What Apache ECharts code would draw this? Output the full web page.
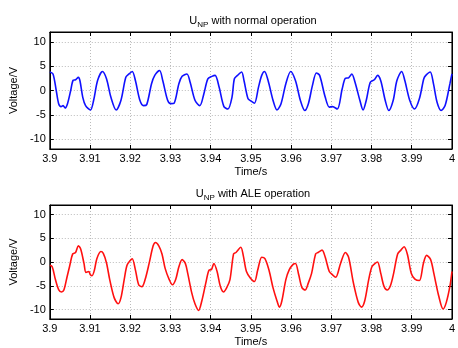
<!DOCTYPE html>
<html>
<head>
<meta charset="utf-8">
<script src="https://cdn.jsdelivr.net/npm/echarts@6/dist/echarts.min.js"></script>
<style>
  html, body { margin: 0; padding: 0; background: #fff; }
  #chart { width: 458px; height: 348px; }
</style>
</head>
<body>
<div id="chart"></div>
<script>
// U_NP, normal operation (blue)
const normalTime = [3.9, 3.9008, 3.9016, 3.9022, 3.9028, 3.9033, 3.9038, 3.9044, 3.9052, 3.9058,
  3.9064, 3.9071, 3.9075, 3.9082, 3.9089, 3.9101, 3.9109, 3.9119, 3.9131, 3.9141,
  3.9152, 3.9165, 3.9177, 3.9189, 3.9197, 3.9205, 3.9213, 3.9224, 3.9233, 3.9241,
  3.9253, 3.9261, 3.9273, 3.9281, 3.9293, 3.9301, 3.9309, 3.9321, 3.9329, 3.9341,
  3.9349, 3.9361, 3.9373, 3.9383, 3.9393, 3.9403, 3.9411, 3.9421, 3.9433, 3.9443,
  3.9453, 3.9459, 3.9467, 3.9477, 3.9483, 3.9493, 3.9501, 3.9509, 3.9519, 3.9527,
  3.9534, 3.9543, 3.9555, 3.9565, 3.9575, 3.9587, 3.9599, 3.9611, 3.9623, 3.9634,
  3.9643, 3.9653, 3.9663, 3.9671, 3.9685, 3.9695, 3.9703, 3.9715, 3.9727, 3.9735,
  3.9743, 3.9751, 3.9759, 3.9771, 3.9779, 3.9787, 3.9797, 3.9807, 3.9815, 3.9823,
  3.9834, 3.9843, 3.9854, 3.9863, 3.9875, 3.9883, 3.9895, 3.9907, 3.9919, 3.993,
  3.9935, 3.9946, 3.9954, 3.9963, 3.9973, 3.9983, 3.9995, 4.0];
const normalVolt = [3.8, 3.4, 0, -2.7, -3.3, -3.1, -3.6, -2.7, 0, 2.1,
  2.2, 2.7, 2.0, -1.4, -3.1, -4.0, -2.0, 2.1, 3.9, 2.4,
  -1.4, -4.0, -2.0, 2.7, 3.4, 3.9, 2.0, -2.0, -3.1, -2.9,
  1.4, 3.1, 4.1, 2.0, -2.0, -2.7, -2.6, 1.4, 2.9, 3.4,
  1.7, -2.0, -3.1, -0.7, 2.4, 2.9, 3.1, 0.7, -3.3, -3.8,
  -1.4, 2.4, 3.1, 3.8, 2.0, -1.7, -2.2, -2.6, 0.7, 3.1,
  3.9, 2.0, -2.0, -4.0, -2.7, 1.4, 3.9, 2.0, -2.0, -4.1,
  -2.7, 1.0, 3.6, 3.1, -1.4, -3.4, -3.3, -3.8, 0.3, 2.5,
  2.6, 3.4, 1.7, -2.0, -4.0, -2.0, 1.7, 2.2, 3.1, 2.0,
  -2.0, -4.1, -2.0, 2.0, 3.9, 2.0, -2.0, -3.8, -1.7, 2.4,
  3.1, 3.8, 1.4, -2.4, -4.1, -3.1, 1.4, 3.4];

// U_NP, ALE operation (red)
const aleTime = [3.9, 3.9006, 3.9014, 3.9022, 3.9029, 3.9035, 3.9043, 3.9049, 3.9057, 3.9064,
  3.9071, 3.9077, 3.9085, 3.909, 3.9097, 3.9101, 3.9105, 3.9111, 3.9117, 3.9127,
  3.9133, 3.9141, 3.9149, 3.916, 3.917, 3.9177, 3.9185, 3.9192, 3.92, 3.9205,
  3.9213, 3.9221, 3.9229, 3.9237, 3.9247, 3.9257, 3.9263, 3.9271, 3.9279, 3.9287,
  3.9297, 3.9305, 3.9313, 3.9321, 3.9329, 3.9337, 3.9343, 3.9353, 3.9361, 3.937,
  3.9378, 3.9388, 3.9396, 3.9402, 3.9408, 3.9416, 3.9424, 3.9432, 3.944, 3.9448,
  3.9457, 3.9463, 3.9475, 3.9481, 3.9489, 3.9499, 3.9509, 3.9517, 3.9527, 3.9535,
  3.9545, 3.9555, 3.9565, 3.9571, 3.9577, 3.9587, 3.9595, 3.9605, 3.9611, 3.9619,
  3.9627, 3.9635, 3.9643, 3.9651, 3.9661, 3.9667, 3.9677, 3.9685, 3.9695, 3.9703,
  3.9711, 3.9723, 3.9735, 3.9743, 3.9755, 3.9767, 3.9775, 3.9783, 3.9793, 3.9801,
  3.9809, 3.9815, 3.9823, 3.9831, 3.9839, 3.9847, 3.9855, 3.9865, 3.9873, 3.9881,
  3.9889, 3.9899, 3.9908, 3.9919, 3.9929, 3.9937, 3.9947, 3.9955, 3.9967, 3.9978,
  3.9986, 3.9995, 4.0];
const aleVolt = [-0.7, -1.0, -3.7, -5.8, -6.3, -5.9, -3.1, -1.0, 1.7, 2.0,
  3.4, 2.7, -0.3, -2.2, -2.0, -2.7, -2.9, -1.7, 0.7, 2.2,
  1.8, -0.2, -3.7, -7.5, -8.8, -7.5, -3.7, -0.7, 0.3, 0.7,
  -1.7, -4.8, -5.2, -3.7, -0.3, 3.4, 4.1, 3.4, 1.7, -1.4,
  -3.7, -4.8, -3.7, -1.0, 0.5, -0.3, -2.4, -6.5, -8.8, -10.2,
  -8.2, -4.4, -1.7, -1.6, -0.3, -2.0, -5.1, -6.3, -5.4, -3.7,
  1.7, 2.0, 3.1, 1.4, -2.0, -3.4, -4.1, -1.7, 1.0, 0.7,
  -1.7, -5.4, -8.2, -9.5, -8.2, -3.7, -1.7, -0.5, -0.3, -2.7,
  -5.4, -5.9, -4.4, -2.4, 1.7, 2.0, 2.5, 1.0, -2.0, -2.7,
  -3.2, -0.3, 2.0, 1.0, -4.4, -8.5, -9.5, -8.2, -3.7, -1.0,
  -0.3, 0, -2.4, -5.1, -5.9, -5.0, -2.4, 1.7, 2.5, 3.2,
  1.7, -2.4, -3.6, -3.9, -0.3, 1.4, 0.5, -2.4, -7.1, -9.9,
  -8.5, -5.1, -2.0];

const titles = ['normal operation', 'ALE operation'];
const FONT = '"Liberation Sans", Arial, sans-serif';

const chart = echarts.init(document.getElementById('chart'));

const grids = [
  { left: 40, top: 32, width: 417, height: 117, show: true, borderColor: '#000', borderWidth: 1 },
  { left: 40, top: 205, width: 417, height: 117, show: true, borderColor: '#000', borderWidth: 1 },
];

const tickLabel = (v) => String(parseFloat(v.toFixed(2)));
const axisLine = { show: true, onZero: false, lineStyle: { color: '#000' } };
const tick = { inside: true, length: 4, lineStyle: { color: '#000' } };
const grid = { show: true, lineStyle: { color: '#bbb', type: [1, 2] } };

const xAxes = [];
const yAxes = [];
grids.forEach((_, i) => {
  xAxes.push({
    type: 'value', gridIndex: i, min: 3.9, max: 4.0, interval: 0.01,
    name: 'Time/s', nameLocation: 'middle', nameGap: 17,
    nameTextStyle: { fontFamily: FONT, fontSize: 11, color: '#000' },
    axisLine, axisTick: tick,
    axisLabel: { formatter: tickLabel, fontFamily: FONT, fontSize: 11, color: '#000', margin: 4 },
    splitLine: grid,
  });
  xAxes.push({
    type: 'value', gridIndex: i, position: 'top', min: 3.9, max: 4.0, interval: 0.01,
    axisLine, axisTick: tick,
    axisLabel: { show: false }, splitLine: { show: false },
  });
  yAxes.push({
    type: 'value', gridIndex: i, min: -12, max: 12, splitNumber: 5,
    name: 'Voltage/V', nameLocation: 'middle', nameGap: 22,
    nameTextStyle: { fontFamily: FONT, fontSize: 11, color: '#000' },
    axisLine, axisTick: tick,
    axisLabel: { fontFamily: FONT, fontSize: 11, color: '#000', margin: 4,
      showMinLabel: false, showMaxLabel: false },
    splitLine: grid,
  });
  yAxes.push({
    type: 'value', gridIndex: i, position: 'right', min: -12, max: 12, splitNumber: 5,
    axisLine, axisTick: tick,
    axisLabel: { show: false }, splitLine: { show: false },
  });
});

chart.setOption({
  animation: false,
  backgroundColor: '#fff',
  title: titles.map((t, i) => ({
    text: '{u|U}{s|NP}{t| with ' + t + '}',
    left: 248, top: i === 0 ? 8 : 181, textAlign: 'center',
    textStyle: {
      fontWeight: 'normal',
      rich: {
        u: { fontFamily: FONT, fontSize: 11, fontWeight: 'normal', color: '#000' },
        s: { fontFamily: FONT, fontSize: 8, fontWeight: 'normal', color: '#000', padding: [8, 0, 0, 0] },
        t: { fontFamily: FONT, fontSize: 11, fontWeight: 'normal', color: '#000' },
      },
    },
  })),
  grid: grids,
  xAxis: xAxes,
  yAxis: yAxes,
  series: [
    {
      type: 'line', xAxisIndex: 0, yAxisIndex: 0, showSymbol: false, smooth: 0.3,
      lineStyle: { color: '#1010ff', width: 1.6 },
      data: normalTime.map((t, k) => [t, normalVolt[k]]),
    },
    {
      type: 'line', xAxisIndex: 2, yAxisIndex: 2, showSymbol: false, smooth: 0.3,
      lineStyle: { color: '#ff1010', width: 1.6 },
      data: aleTime.map((t, k) => [t, aleVolt[k]]),
    },
  ],
});
</script>
</body>
</html>
